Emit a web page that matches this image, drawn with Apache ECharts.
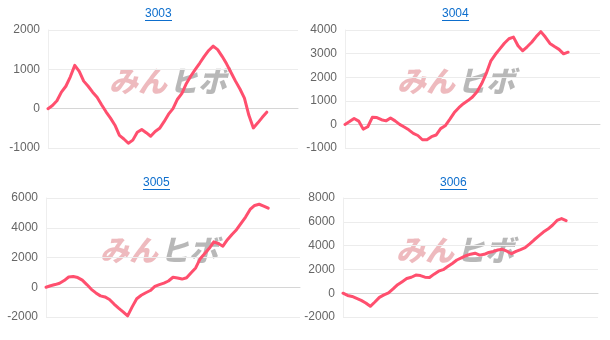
<!DOCTYPE html>
<html>
<head>
<meta charset="utf-8">
<script src="https://cdn.jsdelivr.net/npm/echarts@6/dist/echarts.min.js"></script>
<style>
html,body{margin:0;padding:0;background:#fff;}
#c{width:610px;height:340px;}
</style>
</head>
<body>
<div id="c"></div>
<script>
var titles = ['3003', '3004', '3005', '3006'];
var categories = ['1','2','3','4','5','6','7','8','9','10','11','12','13','14','15','16','17','18','19','20',
  '21','22','23','24','25','26','27','28','29','30','31','32','33','34','35','36','37','38','39','40',
  '41','42','43','44','45','46','47','48','49','50','51','52','53','54','55','56','57'];
var s3003 = [0,80,200,420,570,810,1100,950,700,570,420,290,100,-80,-240,-420,-680,-770,-880,-800,
  -600,-530,-610,-700,-580,-500,-330,-140,0,240,390,640,830,1000,1160,1330,1480,1590,1500,1330,
  1140,920,700,500,270,-170,-490,-360,-220,-90];
var s3004 = [0,120,250,140,-200,-100,300,290,200,150,270,150,0,-110,-230,-380,-470,-650,-650,-520,
  -450,-180,-60,210,500,710,880,1010,1160,1380,1720,2150,2680,2960,3200,3440,3630,3700,3330,3120,
  3290,3480,3720,3930,3700,3430,3300,3180,2990,3060];
var s3005 = [0,100,180,270,450,690,720,650,480,180,-140,-380,-580,-650,-820,-1130,-1400,-1650,-1920,-1320,
  -770,-540,-370,-220,60,180,280,420,670,620,550,640,980,1300,1920,2270,2620,3050,2940,2760,
  3200,3550,3870,4300,4720,5230,5500,5580,5460,5320];
var s3006 = [0,-190,-270,-430,-600,-820,-1100,-740,-350,-140,30,360,720,970,1230,1340,1520,1480,1350,1320,
  1600,1850,1980,2240,2500,2790,2970,3150,3280,3360,3200,3270,3420,3510,3630,3690,3530,3320,3520,3670,
  3830,4150,4490,4810,5140,5390,5710,6110,6270,6090];
var yMin = [-1000, -1000, -2000, -2000];
var yMax = [2000, 4000, 6000, 8000];
var yStep = [1000, 1000, 2000, 2000];
var seriesData = [s3003, s3004, s3005, s3006];

var grids = [
  {left: 48, top: 30, width: 250, height: 118},
  {left: 345, top: 30, width: 255, height: 118},
  {left: 46, top: 198, width: 254, height: 119},
  {left: 343, top: 198, width: 255, height: 119}
];
var titleCenter = [[159, 8], [456, 8], [157, 177], [454, 177]];
var markPos = [[109, 66], [397, 66], [100, 235], [396, 235]];

var chart = echarts.init(document.getElementById('c'), null, {renderer: 'canvas'});
var option = {
  animation: false,
  backgroundColor: '#fff',
  title: [], grid: grids, xAxis: [], yAxis: [], series: [], graphic: []
};
for (var i = 0; i < 4; i++) {
  option.title.push({
    text: titles[i], left: titleCenter[i][0] - 14, top: titleCenter[i][1], padding: 0,
    textStyle: {color: '#0d6ecd', fontSize: 12, fontWeight: 'normal', fontFamily: 'Liberation Sans, Arial, sans-serif'}
  });
  option.graphic.push({
    type: 'rect', shape: {x: titleCenter[i][0] - 14, y: titleCenter[i][1] + 12, width: 27, height: 1},
    style: {fill: '#0d6ecd'}, silent: true
  });
  option.graphic.push({
    type: 'group', left: markPos[i][0], top: markPos[i][1], silent: true, z: 0,
    children: [
      {type: 'text', x: 0, y: 0, style: {text: 'みん', fill: 'rgba(214,90,100,0.42)',
        font: 'italic 900 29px "Noto Sans CJK JP"'}},
      {type: 'text', x: 60, y: 0, style: {text: 'ヒボ', fill: 'rgba(140,140,140,0.62)',
        font: 'italic 900 29px "Noto Sans CJK JP"'}}
    ]
  });
  option.xAxis.push({
    type: 'category', gridIndex: i, data: categories, boundaryGap: false,
    axisLabel: {show: false}, axisTick: {show: false},
    axisLine: {lineStyle: {color: '#d6d6d6', width: 1}},
    splitLine: {show: false}
  });
  option.yAxis.push({
    type: 'value', gridIndex: i, min: yMin[i], max: yMax[i], interval: yStep[i],
    axisLabel: {color: '#666', fontSize: 12, fontFamily: 'Liberation Sans, Arial, sans-serif', margin: 8,
      formatter: function (v) { return String(v); }},
    axisLine: {show: true, lineStyle: {color: '#eeeeee'}},
    axisTick: {show: false},
    splitLine: {lineStyle: {color: '#ececec'}}
  });
  option.series.push({
    type: 'line', xAxisIndex: i, yAxisIndex: i, data: seriesData[i],
    symbol: 'none', smooth: false, z: 5,
    lineStyle: {color: '#ff4f6e', width: 3, join: 'round', cap: 'round'}
  });
}
chart.setOption(option);
</script>
</body>
</html>
